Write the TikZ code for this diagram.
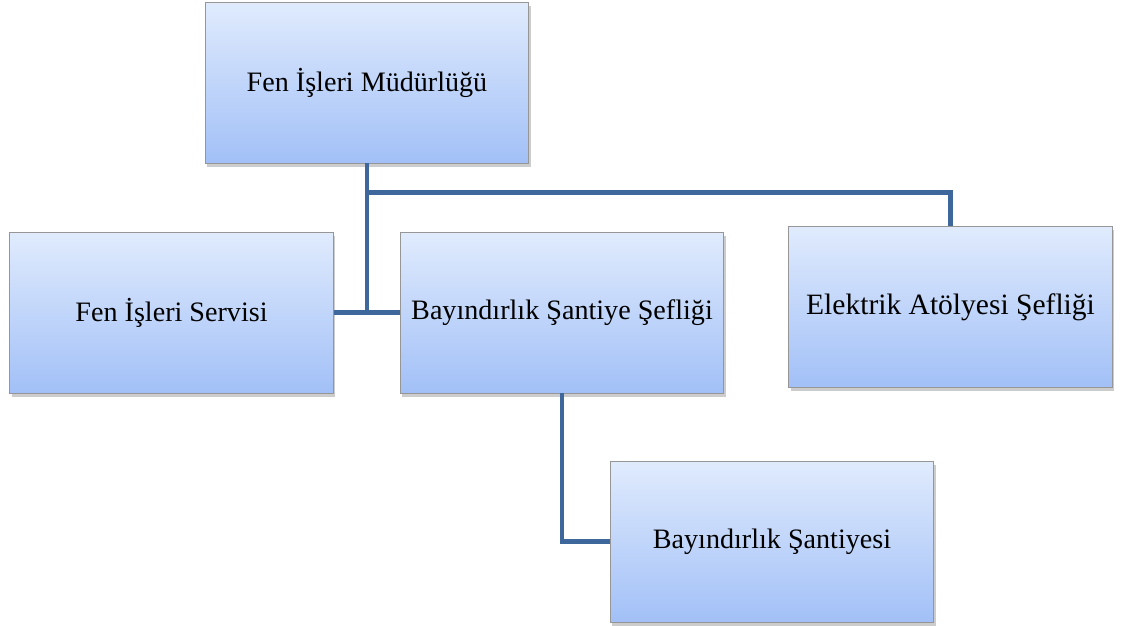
\documentclass[tikz,border=0pt]{standalone}
\usepackage{fontspec}
\setmainfont{Liberation Serif}
\usetikzlibrary{positioning, calc, shadows}
\definecolor{boxtop}{RGB}{224,235,253}
\definecolor{boxbot}{RGB}{162,192,247}
\definecolor{boxedge}{RGB}{150,150,150}
\definecolor{linkblue}{RGB}{62,104,156}

\begin{document}
\begin{tikzpicture}[
      x=0.025cm, y=-0.025cm,
      unit/.style={rectangle, draw=boxedge, line width=0.6pt,
                   top color=boxtop, bottom color=boxbot,
                   minimum width=8.08cm, minimum height=4.02cm,
                   font=\fontsize{20}{24}\selectfont, align=center,
                   drop shadow={opacity=0.4, shadow xshift=0.05cm, shadow yshift=-0.09cm}},
      link/.style={draw=linkblue, line width=3.5pt}
    ]
    \useasboundingbox (0,0) rectangle (1128,625);
    \node[unit] (mud) at (367,82.5) {Fen İşleri Müdürlüğü};
    \node[unit] (srv) at (171.5,312.5) {Fen İşleri Servisi};
    \node[unit] (bsf) at (562,312.5) {Bayındırlık Şantiye Şefliği};
    \node[unit, font=\fontsize{21}{25}\selectfont] (eas) at (950.5,307) {Elektrik Atölyesi Şefliği};
    \node[unit] (bsn) at (772,541.5) {Bayındırlık Şantiyesi};
    \coordinate (bus) at ($(mud.south)+(0,29)$);
    \draw[link] (mud.south) -- (mud.south |- bsf.west);
    \draw[link] (srv.east) -- (bsf.west);
    \draw[link] (bus) -| (eas.north);
    \draw[link] (bsf.south) |- (bsn.west);
  \end{tikzpicture}
\end{document}
